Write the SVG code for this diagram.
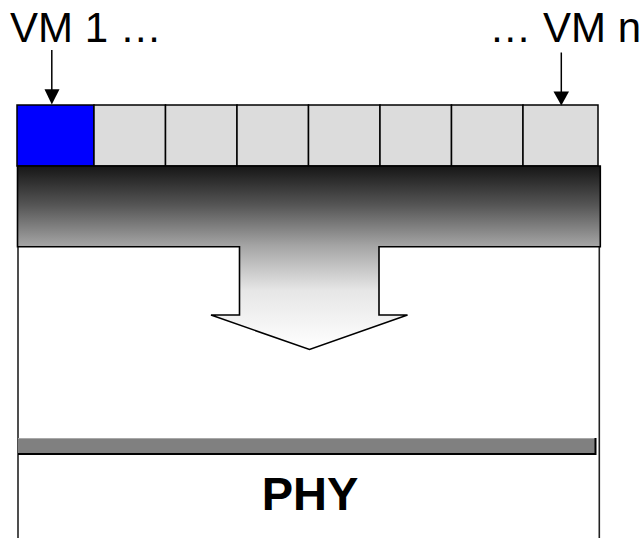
<svg xmlns="http://www.w3.org/2000/svg" width="643" height="538" viewBox="0 0 643 538">
  <style>
    .lbl { font-family: "Liberation Sans", Arial, sans-serif; font-size: 42px; fill: #000; }
    .phy { font-family: "Liberation Sans", Arial, sans-serif; font-size: 47px; font-weight: bold; fill: #000; }
    .cell { fill: #dcdcdc; stroke: #000; stroke-width: 1.5; }
    .frame { stroke: #222; stroke-width: 1.6; fill: none; }
    .conn { stroke: #000; stroke-width: 1.5; fill: none; }
  </style>
  <defs>
    <linearGradient id="grad" gradientUnits="userSpaceOnUse" x1="0" y1="166" x2="0" y2="349">
      <stop offset="0" stop-color="#161616"/>
      <stop offset="0.213" stop-color="#555555"/>
      <stop offset="0.437" stop-color="#a5a5a5"/>
      <stop offset="0.678" stop-color="#e6e6e6"/>
      <stop offset="1" stop-color="#ffffff"/>
    </linearGradient>
  </defs>
  <rect width="643" height="538" fill="#fff"/>

  <g id="frame">
    <line class="frame" x1="18" y1="166" x2="18" y2="538"/>
    <line class="frame" x1="599.3" y1="166" x2="599.3" y2="538"/>
  </g>

  <g id="vm-cells">
    <rect x="17" y="105" width="77" height="61" fill="#0000ff" stroke="#000" stroke-width="1.5"/>
    <rect class="cell" x="94" y="105" width="71.5" height="61"/>
    <rect class="cell" x="165.5" y="105" width="71.5" height="61"/>
    <rect class="cell" x="237" y="105" width="71.5" height="61"/>
    <rect class="cell" x="308.5" y="105" width="71.5" height="61"/>
    <rect class="cell" x="380" y="105" width="71.5" height="61"/>
    <rect class="cell" x="451.5" y="105" width="71.5" height="61"/>
    <rect class="cell" x="523" y="105" width="75" height="61"/>
  </g>

  <g id="hypervisor-arrow">
    <path d="M17.5,166 H600.3 V246.7 H379 V315 H407.5 L309.5,349.5 L211,315 H239.5 V246.7 H17.5 Z" fill="url(#grad)" stroke="#000" stroke-width="1.6" stroke-linejoin="miter"/>
  </g>

  <g id="phy-bar">
    <rect x="18" y="438.5" width="577.5" height="15.5" fill="#808080"/>
    <line x1="18" y1="438.5" x2="595.5" y2="438.5" stroke="#a8a8a8" stroke-width="1.2"/>
    <polyline points="18,454 595.5,454 595.5,438" fill="none" stroke="#000" stroke-width="2"/>
  </g>

  <g id="phy-label">
    <text class="phy" x="310" y="510" text-anchor="middle">PHY</text>
  </g>

  <g id="vm1-label">
    <text class="lbl" x="10" y="41.5">VM 1 …</text>
  </g>
  <g id="vmn-label">
    <text class="lbl" x="641" y="41.5" text-anchor="end">… VM n</text>
  </g>

  <g id="connectors">
    <line class="conn" x1="51.8" y1="50" x2="51.8" y2="90"/>
    <polygon points="44.5,89.3 59.5,89.3 51.8,104.5" fill="#000"/>
    <line class="conn" x1="561.3" y1="52.5" x2="561.3" y2="92"/>
    <polygon points="553.5,91.5 569,91.5 561.3,105.5" fill="#000"/>
  </g>
</svg>
